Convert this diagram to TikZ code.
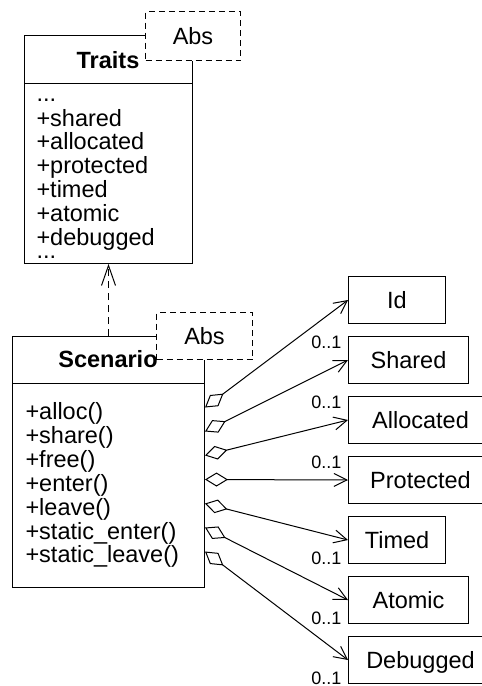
\documentclass[tikz,border=0pt]{standalone}
\usepackage{fontspec}
\setmainfont{Liberation Sans}
\usetikzlibrary{arrows.meta}
\begin{document}
\begin{tikzpicture}[x=1pt,y=-1pt,line width=1pt,
  font=\fontsize{23.5}{24}\selectfont,
  umlbox/.style={draw,fill=white,inner sep=0pt,anchor=north west,text height=16.8pt,text depth=0pt},
  absbox/.style={draw,fill=white,dash pattern=on 6pt off 4pt,inner sep=0pt,anchor=north west,text height=16.8pt,text depth=0pt},
  txt/.style={inner sep=0pt,anchor=base west},
  ttl/.style={inner sep=0pt,anchor=base,font=\fontsize{23.5}{24}\selectfont\bfseries},
  mult/.style={inner sep=0pt,anchor=base east,font=\fontsize{18}{20}\selectfont},
  assoc/.style={{Diamond[open,length=23pt,width=14pt]}-{Straight Barb[length=13pt,width=13pt]}},
  dep/.style={dash pattern=on 7pt off 5pt,-{Straight Barb[length=20pt,width=14pt]}}]
\useasboundingbox (0,0) rectangle (482,686);

% Traits class
\node[umlbox,minimum width=168pt,minimum height=228pt] (traits) at (24,35) {};
\draw ([yshift=-48pt]traits.north west) -- ([yshift=-48pt]traits.north east);
\node[absbox,minimum width=95pt,minimum height=49pt] (tabs) at (145,11) {Abs};
\node[ttl] (ttitle) at (108,68) {Traits};
\node[txt] (t0) at (36,101) {...};
\node[txt] (t1) at (36,126) {+shared};
\node[txt] (t2) at (36,149.8) {+allocated};
\node[txt] (t3) at (36,173.6) {+protected};
\node[txt] (t4) at (36,197.4) {+timed};
\node[txt] (t5) at (36,221.2) {+atomic};
\node[txt] (t6) at (36,245) {+debugged};
\node[txt] (t7) at (36,258) {...};

% Scenario class
\node[umlbox,minimum width=192pt,minimum height=251pt] (scen) at (12,336) {};
\draw ([yshift=-47pt]scen.north west) -- ([yshift=-47pt]scen.north east);
\node[absbox,minimum width=96pt,minimum height=47pt] (sabs) at (156,312) {Abs};
\node[ttl] (stitle) at (108,367) {Scenario};
\node[txt] (m1) at (25,419.5) {+alloc()};
\node[txt] (m2) at (25,443.4) {+share()};
\node[txt] (m3) at (25,467.3) {+free()};
\node[txt] (m4) at (25,491.2) {+enter()};
\node[txt] (m5) at (25,515.1) {+leave()};
\node[txt] (m6) at (25,539) {+static\_enter()};
\node[txt] (m7) at (25,562.9) {+static\_leave()};

% dependency
\draw[dep] (scen.north) -- (traits.south);

% right boxes
\node[umlbox,minimum width=97pt,minimum height=47pt] (id) at (348,276) {Id};
\node[umlbox,minimum width=120pt,minimum height=47pt] (shared) at (348,336) {Shared};
\node[umlbox,minimum width=144pt,minimum height=47pt] (alloc) at (348,396) {Allocated};
\node[umlbox,minimum width=144pt,minimum height=47pt] (prot) at (348,456) {Protected};
\node[umlbox,minimum width=97pt,minimum height=47pt] (timed) at (348,516) {Timed};
\node[umlbox,minimum width=120pt,minimum height=47pt] (atomic) at (348,576) {Atomic};
\node[umlbox,minimum width=144pt,minimum height=47pt] (debug) at (348,636) {Debugged};

% associations
\draw[assoc] ([yshift=-71.5pt]scen.north east) -- (id.west);
\draw[assoc] ([yshift=-95.5pt]scen.north east) -- (shared.west);
\draw[assoc] ([yshift=-119.5pt]scen.north east) -- (alloc.west);
\draw[assoc] ([yshift=-143.5pt]scen.north east) -- (prot.west);
\draw[assoc] ([yshift=-167.5pt]scen.north east) -- (timed.west);
\draw[assoc] ([yshift=-191.5pt]scen.north east) -- (atomic.west);
\draw[assoc] ([yshift=-215.5pt]scen.north east) -- (debug.west);

% multiplicities
\node[mult] (ml2) at ([xshift=-6pt,yshift=-12.3pt]shared.north west) {0..1};
\node[mult] (ml3) at ([xshift=-6pt,yshift=-12.3pt]alloc.north west) {0..1};
\node[mult] (ml4) at ([xshift=-6pt,yshift=-12.3pt]prot.north west) {0..1};
\node[mult] (ml5) at ([xshift=-6pt]timed.south west) {0..1};
\node[mult] (ml6) at ([xshift=-6pt]atomic.south west) {0..1};
\node[mult] (ml7) at ([xshift=-6pt]debug.south west) {0..1};
\end{tikzpicture}
\end{document}
